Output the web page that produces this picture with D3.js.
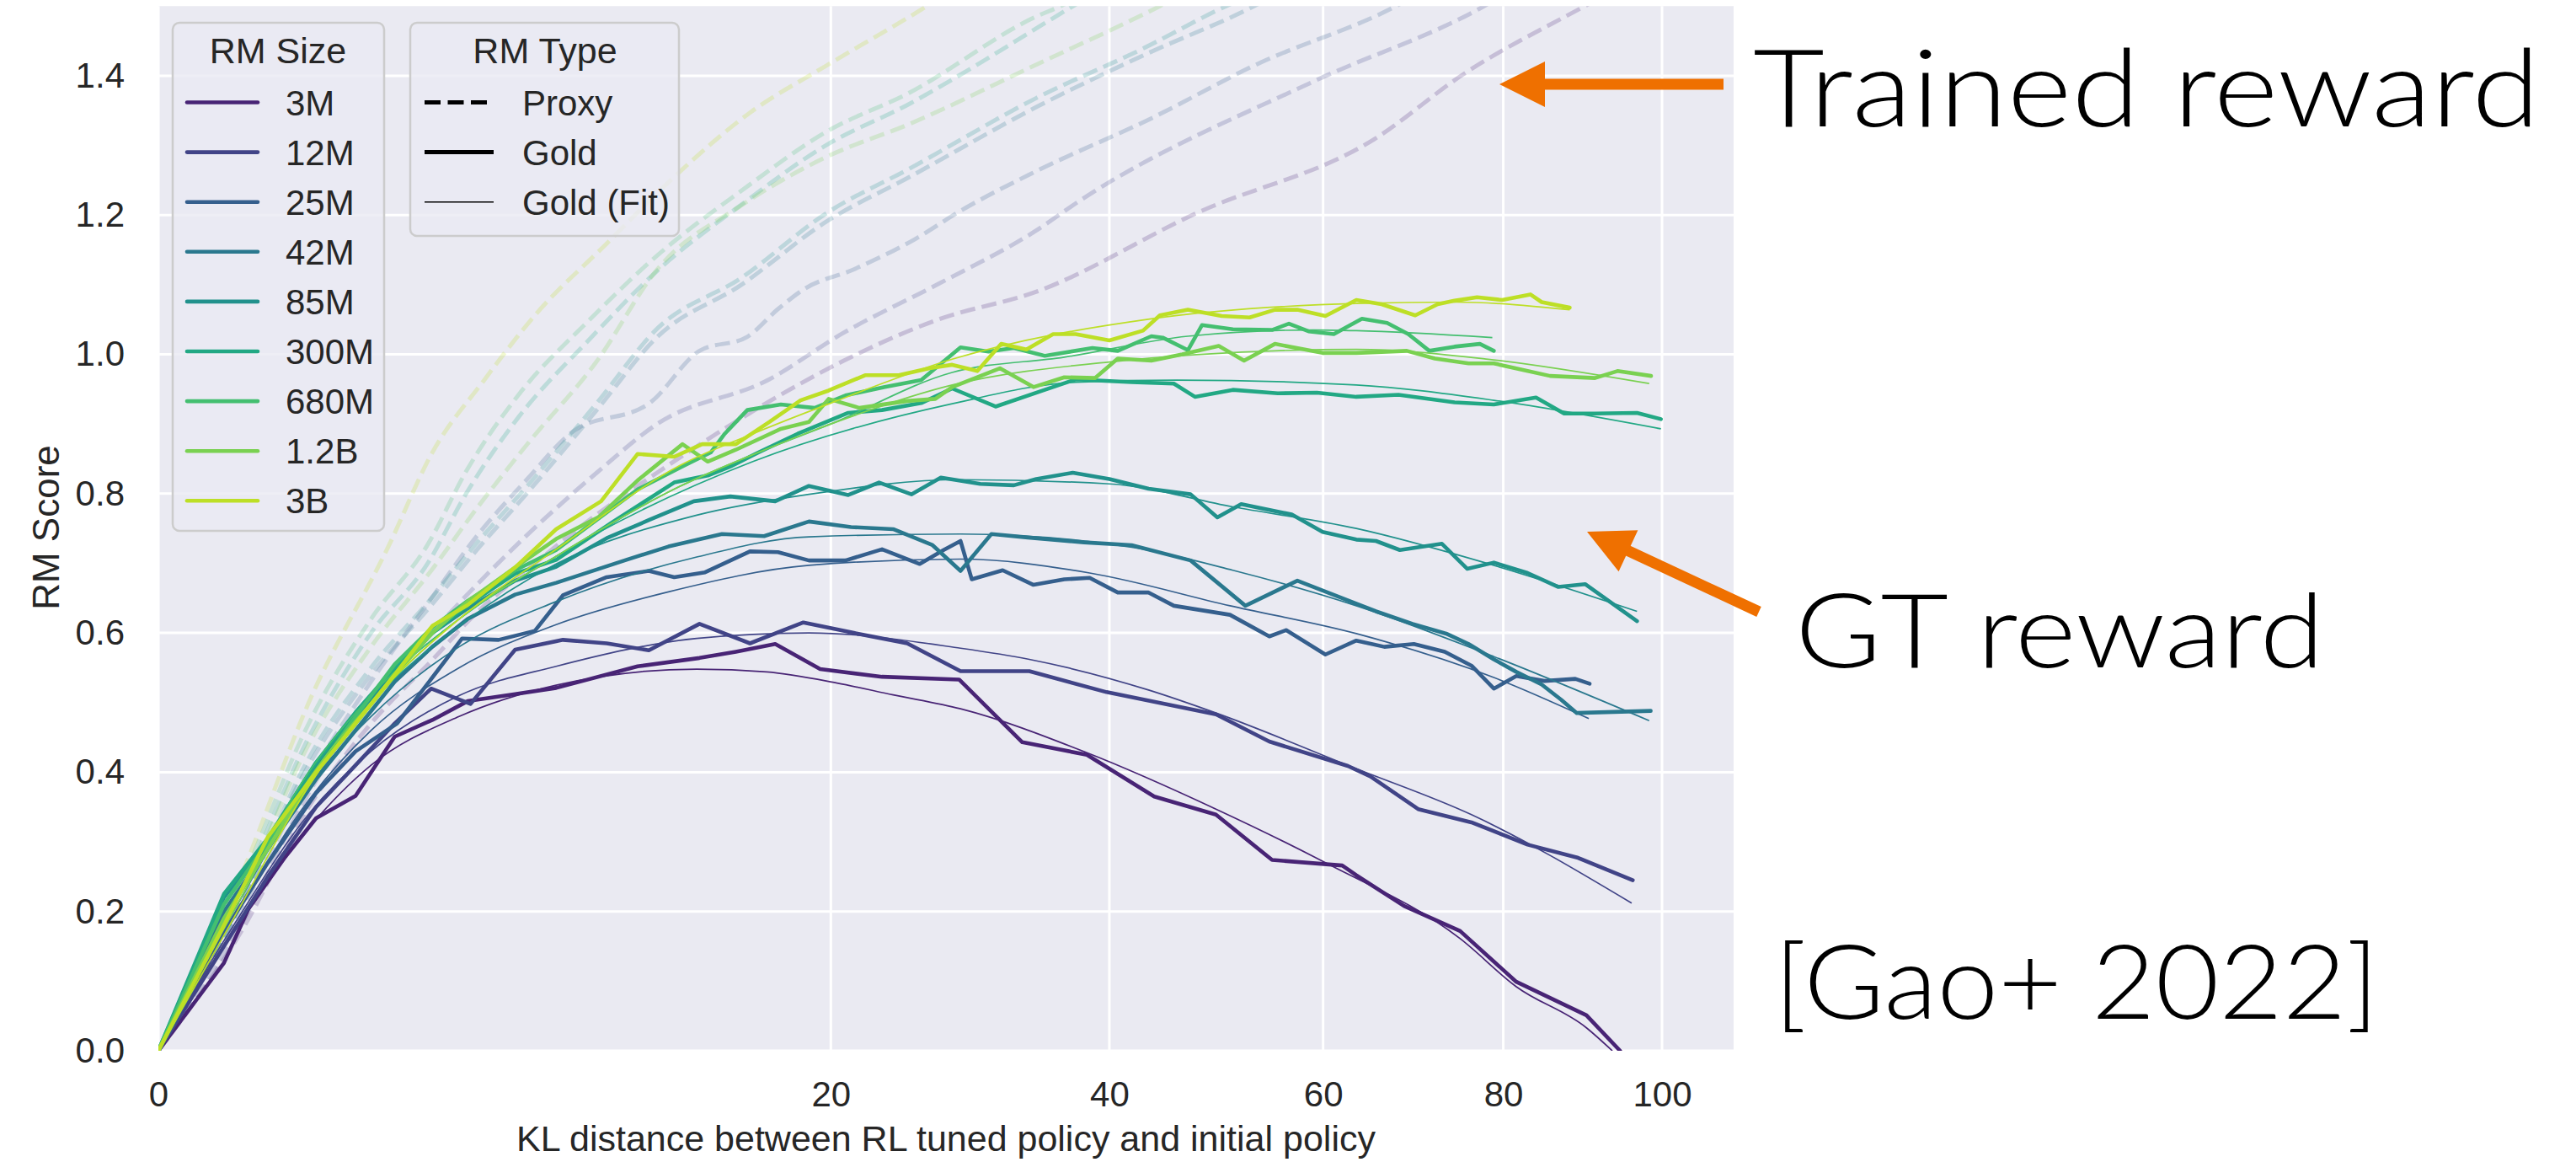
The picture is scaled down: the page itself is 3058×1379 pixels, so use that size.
<!DOCTYPE html>
<html><head><meta charset="utf-8">
<script src="https://cdn.jsdelivr.net/npm/d3@7"></script>
<style>body{margin:0;background:#fff} svg{display:block}</style>
</head><body>
<svg id="c" width="3058" height="1379"></svg>
<script>
// ---------- data ----------
const rmSizes = ["3M","12M","25M","42M","85M","300M","680M","1.2B","3B"];
const rmColors = ["#482475","#414487","#355f8d","#2a788e","#21918c","#22a884","#44bf70","#7ad151","#bddf26"];
const xTicks = [0,20,40,60,80,100];
const yTicks = [0,0.2,0.4,0.6,0.8,1.0,1.2,1.4];
const typeLabels = ["Proxy","Gold","Gold (Fit)"];

// gold (measured) : [KL, score]
const gold3M = [[0,0],[0.19,0.126],[0.36,0.204],[0.71,0.278],[1.10,0.334],[1.72,0.366],[2.47,0.451],[3.32,0.475],[4.23,0.502],[5.63,0.512],[7.0,0.521],[10.16,0.552],[12.95,0.564],[14.75,0.573],[16.83,0.584],[19.37,0.548],[23.16,0.537],[28.36,0.533],[33.01,0.443],[38.13,0.425],[43.86,0.365],[49.47,0.339],[54.86,0.274],[61.99,0.266],[63.47,0.252],[68.63,0.208],[74.95,0.172],[81.56,0.099],[90.2,0.051],[94.5,0.0]];
const gold12M = [[0,0],[0.19,0.15],[0.53,0.25],[1.10,0.35],[1.72,0.41],[2.47,0.47],[3.29,0.520],[4.31,0.498],[5.63,0.576],[7.24,0.590],[8.89,0.585],[10.64,0.575],[12.95,0.613],[15.48,0.585],[18.40,0.615],[21.39,0.600],[24.80,0.585],[28.46,0.545],[33.55,0.545],[39.76,0.515],[49.47,0.483],[54.59,0.444],[62.58,0.409],[64.97,0.394],[70.19,0.347],[76.26,0.328],[82.92,0.296],[89.15,0.277],[96.15,0.245]];
const gold25M = [[0,0],[0.19,0.17],[0.53,0.27],[1.10,0.37],[1.72,0.43],[2.52,0.47],[3.32,0.536],[4.08,0.592],[5.12,0.590],[6.27,0.603],[7.24,0.654],[8.89,0.680],[10.64,0.689],[11.77,0.680],[13.22,0.687],[15.48,0.717],[16.98,0.716],[18.72,0.704],[20.88,0.704],[23.16,0.720],[25.64,0.699],[27.27,0.719],[28.46,0.732],[29.26,0.677],[31.53,0.690],[33.87,0.669],[36.30,0.677],[38.36,0.679],[40.71,0.658],[43.37,0.658],[45.61,0.639],[50.79,0.626],[54.59,0.595],[56.25,0.604],[60.24,0.569],[63.47,0.589],[66.48,0.580],[69.72,0.584],[73.19,0.573],[76.26,0.553],[78.88,0.520],[81.56,0.538],[84.97,0.531],[88.80,0.534],[90.6,0.527]];
const gold42M = [[0,0],[0.19,0.20],[0.53,0.29],[1.10,0.39],[1.72,0.46],[2.47,0.53],[3.32,0.58],[4.23,0.62],[5.63,0.655],[7.0,0.672],[9.69,0.705],[11.51,0.724],[14.05,0.742],[16.23,0.739],[18.72,0.760],[21.22,0.752],[23.88,0.749],[26.51,0.726],[28.46,0.689],[30.69,0.742],[33.44,0.737],[37.90,0.730],[41.90,0.726],[47.13,0.704],[52.26,0.639],[57.38,0.675],[63.47,0.642],[65.57,0.631],[69.57,0.613],[73.35,0.599],[75.93,0.584],[78.88,0.562],[81.56,0.544],[84.62,0.526],[87.05,0.504],[88.98,0.485],[98.5,0.488]];
const gold85M = [[0,0],[0.19,0.22],[0.53,0.30],[1.10,0.41],[1.72,0.48],[2.47,0.545],[3.32,0.60],[4.23,0.635],[5.63,0.675],[7.0,0.695],[8.89,0.736],[10.64,0.762],[12.68,0.789],[14.47,0.796],[16.83,0.789],[18.72,0.811],[21.05,0.798],[22.97,0.816],[25.08,0.799],[27.08,0.823],[29.87,0.814],[32.37,0.812],[34.09,0.821],[36.98,0.830],[40.0,0.821],[43.37,0.807],[47.13,0.799],[49.6,0.766],[51.86,0.785],[56.81,0.770],[59.95,0.745],[63.47,0.734],[65.57,0.732],[68.17,0.719],[72.87,0.728],[75.78,0.692],[78.88,0.701],[82.92,0.686],[86.69,0.666],[90.03,0.670],[96.70,0.617]];
const gold300M = [[0,0],[0.19,0.225],[0.53,0.305],[1.10,0.414],[1.72,0.486],[2.47,0.55],[3.32,0.60],[4.23,0.64],[5.63,0.685],[7.0,0.705],[9.12,0.759],[11.77,0.816],[13.35,0.826],[14.47,0.839],[15.92,0.859],[18.08,0.886],[19.05,0.896],[21.05,0.916],[23.16,0.920],[25.74,0.930],[27.87,0.951],[31.0,0.925],[34.75,0.949],[37.21,0.964],[41.90,0.960],[45.61,0.958],[47.52,0.939],[51.06,0.949],[55.42,0.944],[59.37,0.945],[63.47,0.939],[68.01,0.942],[74.31,0.931],[78.88,0.928],[83.94,0.938],[87.40,0.915],[91.28,0.915],[96.70,0.916],[99.85,0.907]];
const gold680M = [[0,0],[0.19,0.21],[0.53,0.30],[1.10,0.40],[1.72,0.48],[2.47,0.555],[3.32,0.608],[4.23,0.646],[5.63,0.69],[7.0,0.719],[10.16,0.806],[12.15,0.839],[13.49,0.859],[14.19,0.886],[15.34,0.920],[17.14,0.928],[19.05,0.923],[20.88,0.941],[23.34,0.953],[25.74,0.963],[28.46,1.010],[30.48,1.004],[32.37,1.009],[34.75,0.998],[38.59,1.009],[40.71,1.005],[43.61,1.026],[44.61,1.024],[46.88,1.006],[48.17,1.042],[51.06,1.036],[54.86,1.035],[56.53,1.044],[58.51,1.033],[61.11,1.029],[64.07,1.051],[66.78,1.045],[69.10,1.029],[71.44,1.005],[74.31,1.011],[77.24,1.015],[78.88,1.005]];
const gold1_2B = [[0,0],[0.19,0.19],[0.53,0.29],[1.10,0.40],[1.72,0.47],[2.47,0.54],[3.32,0.60],[4.23,0.645],[5.63,0.694],[7.0,0.735],[8.56,0.766],[10.16,0.819],[12.15,0.871],[13.35,0.846],[14.75,0.863],[17.14,0.893],[18.72,0.903],[19.87,0.936],[21.74,0.923],[24.80,0.933],[26.70,0.936],[27.87,0.953],[31.32,0.980],[33.87,0.953],[36.30,0.967],[38.82,0.966],[40.71,0.994],[43.61,0.991],[46.37,1.0],[49.73,1.012],[52.13,0.991],[55.14,1.015],[59.95,1.002],[63.47,1.002],[68.94,1.005],[72.07,0.994],[75.93,0.987],[78.88,0.987],[82.24,0.978],[85.66,0.969],[91.28,0.966],[94.16,0.976],[98.55,0.969]];
const gold3B = [[0,0],[0.19,0.18],[0.53,0.307],[1.10,0.40],[1.72,0.47],[2.47,0.54],[3.32,0.61],[4.23,0.64],[5.63,0.694],[7.0,0.749],[8.67,0.789],[10.16,0.857],[11.77,0.853],[13.08,0.871],[14.75,0.871],[16.52,0.903],[18.24,0.934],[19.87,0.948],[22.09,0.970],[24.25,0.970],[26.31,0.980],[27.87,0.985],[29.67,0.976],[31.42,1.015],[33.33,1.007],[35.41,1.029],[37.21,1.029],[40.0,1.020],[42.88,1.034],[44.36,1.056],[46.88,1.064],[50.0,1.055],[52.67,1.053],[55.14,1.064],[57.38,1.064],[60.24,1.055],[63.47,1.078],[66.17,1.072],[69.87,1.056],[72.39,1.072],[74.31,1.077],[76.91,1.082],[79.88,1.078],[83.26,1.086],[84.63,1.075],[88.10,1.067]];

// gold fits
const fit3M = [[0,0],[0.25,0.17],[1,0.32],[2,0.41],[4,0.48],[7,0.525],[12.82,0.548],[16.37,0.544],[20.37,0.528],[23.88,0.511],[28.46,0.491],[38.13,0.428],[49.47,0.347],[60.24,0.270],[74.95,0.161],[81.56,0.092],[90.2,0.033],[93.5,0.0]];
const fit12M = [[0,0],[0.25,0.18],[1,0.34],[2,0.43],[4,0.51],[7,0.552],[12.82,0.592],[18.72,0.600],[28.46,0.578],[33.55,0.562],[43.37,0.518],[49.47,0.485],[63.47,0.405],[76.26,0.339],[96.0,0.212]];
const fit25M = [[0,0],[0.25,0.19],[1,0.36],[2,0.46],[4,0.55],[7,0.612],[11.51,0.659],[18.72,0.697],[28.46,0.706],[38.36,0.686],[50.79,0.639],[63.47,0.599],[78.88,0.536],[90.5,0.477]];
const fit42M = [[0,0],[0.25,0.2],[1,0.38],[2,0.48],[4,0.58],[7,0.645],[12.82,0.709],[18.72,0.738],[28.46,0.742],[41.9,0.723],[51.06,0.69],[63.47,0.639],[78.88,0.566],[98.3,0.474]];
const fit85M = [[0,0],[0.25,0.21],[1,0.39],[2,0.50],[4,0.61],[7,0.699],[12.82,0.769],[18.72,0.799],[28.46,0.820],[40.0,0.814],[51.06,0.781],[63.47,0.75],[78.88,0.697],[96.7,0.631]];
const fit300M = [[0,0],[0.25,0.21],[1,0.40],[2,0.51],[4,0.62],[7,0.71],[15.63,0.846],[27.87,0.929],[37.21,0.960],[45.9,0.963],[63.47,0.956],[78.88,0.934],[99.85,0.893]];
const fit680M = [[0,0],[0.25,0.21],[1,0.40],[2,0.51],[4,0.62],[7,0.71],[12,0.81],[16,0.86],[20,0.90],[27.87,0.974],[36.3,0.996],[46.88,1.026],[59,1.035],[63.47,1.034],[78.7,1.024]];
const fit1_2B = [[0,0],[0.25,0.2],[1,0.39],[2,0.50],[4,0.62],[7,0.71],[12,0.81],[16,0.86],[20,0.90],[27.87,0.956],[40.0,0.989],[63.47,1.007],[78.2,0.993],[98.3,0.958]];
const fit3B = [[0,0],[0.25,0.19],[1,0.38],[2,0.50],[4,0.62],[7,0.72],[12,0.84],[16,0.89],[20,0.93],[27.87,0.993],[43.6,1.051],[63.47,1.073],[74.31,1.075],[88.1,1.064]];

// proxy (trained RM score)
const proxy3M = [[0,0],[0.3,0.17],[1,0.35],[2,0.47],[3.3,0.56],[4.5,0.63],[6,0.69],[8.5,0.77],[11,0.83],[14,0.89],[17,0.94],[20.7,0.99],[26.9,1.05],[34.1,1.09],[47.7,1.203],[65.4,1.309],[75.3,1.402],[89.5,1.497],[95,1.53]];
const proxy12M = [[0,0],[0.3,0.18],[1,0.37],[2,0.5],[3.3,0.6],[4.5,0.67],[6,0.74],[8.5,0.83],[11,0.9],[16.5,0.964],[20.7,1.03],[26.9,1.101],[34.1,1.178],[37.5,1.22],[59.2,1.393],[77.3,1.497],[82,1.53]];
const proxy25M = [[0,0],[0.3,0.2],[1,0.39],[2,0.53],[3.3,0.65],[4.5,0.74],[6,0.82],[7.53,0.887],[10.75,0.932],[12.95,1.005],[15.33,1.025],[16.98,1.065],[18.4,1.093],[21.39,1.122],[25.37,1.166],[28.46,1.206],[34.09,1.263],[43.5,1.338],[53.3,1.416],[67.3,1.497],[72,1.53]];
const proxy42M = [[0,0],[0.3,0.21],[1,0.41],[2,0.54],[3.3,0.64],[4.5,0.72],[6,0.80],[8.5,0.92],[11.01,1.025],[15.04,1.10],[19.7,1.19],[24.98,1.255],[34.09,1.355],[43,1.43],[52.7,1.497],[57,1.53]];
const proxy85M = [[0,0],[0.3,0.21],[1,0.42],[2,0.55],[3.3,0.65],[4.5,0.73],[6,0.81],[8.5,0.93],[11.01,1.037],[15.04,1.110],[19.7,1.202],[24.98,1.267],[34.09,1.368],[43,1.44],[50,1.497],[55,1.53]];
const proxy300M = [[0,0],[0.3,0.23],[1,0.45],[2,0.6],[3.21,0.70],[4.19,0.80],[5.74,0.91],[8.18,1.02],[11.01,1.12],[15.04,1.215],[19.7,1.30],[24.98,1.36],[30,1.42],[34.09,1.468],[37,1.50],[40,1.53]];
const proxy680M = [[0,0],[0.3,0.24],[1,0.47],[2,0.62],[3.21,0.727],[4.19,0.832],[5.74,0.942],[8.18,1.048],[11.01,1.142],[15.04,1.235],[19.7,1.319],[24.98,1.376],[34.09,1.485],[36,1.50],[40,1.54]];
const proxy1_2B = [[0,0],[0.3,0.22],[1,0.44],[2,0.58],[3.3,0.69],[4.5,0.78],[6,0.87],[8.5,0.99],[11.01,1.122],[15.04,1.214],[19.7,1.283],[24.98,1.331],[34.09,1.416],[44,1.497],[48,1.53]];
const proxy3B = [[0,0],[0.3,0.25],[1,0.5],[2.36,0.727],[3.3,0.857],[4.68,0.962],[6.31,1.058],[8.86,1.158],[11.64,1.251],[15.48,1.347],[19.7,1.414],[25.9,1.497],[30,1.55]];

const goldSeries = [gold3M,gold12M,gold25M,gold42M,gold85M,gold300M,gold680M,gold1_2B,gold3B];
const fitSeries = [fit3M,fit12M,fit25M,fit42M,fit85M,fit300M,fit680M,fit1_2B,fit3B];
const proxySeries = [proxy3M,proxy12M,proxy25M,proxy42M,proxy85M,proxy300M,proxy680M,proxy1_2B,proxy3B];

// ---------- drawing ----------
const svg = d3.select("#c");
const L = 188, R = 2058, T = 7.25, B = 1247;
const x = d3.scaleSqrt().domain([0,109.75]).range([L,R]);
const y = d3.scaleLinear().domain([0,1.5]).range([B,T]);
const textCol = "#262626";
const font = "'Liberation Sans', Arial, Helvetica, sans-serif";

svg.append("rect").attr("width",3058).attr("height",1379).attr("fill","#fff");
svg.append("rect").attr("x",L).attr("y",T).attr("width",R-L).attr("height",B-T).attr("fill","#eaeaf2");

svg.append("defs").append("clipPath").attr("id","clip")
  .append("rect").attr("x",L).attr("y",T).attr("width",R-L).attr("height",B-T);

// grid
const grid = svg.append("g");
grid.selectAll("line.gx").data(xTicks).join("line")
  .attr("x1",d=>x(d)).attr("x2",d=>x(d)).attr("y1",T).attr("y2",B)
  .attr("stroke","#fff").attr("stroke-width",3);
grid.selectAll("line.gy").data(yTicks).join("line")
  .attr("x1",L).attr("x2",R).attr("y1",d=>y(d)).attr("y2",d=>y(d))
  .attr("stroke","#fff").attr("stroke-width",3);

// axes labels via d3 axes (no domain, no ticks)
const xAxis = svg.append("g").attr("transform",`translate(0,${B})`)
  .call(d3.axisBottom(x).tickValues(xTicks).tickFormat(d3.format("d")).tickSize(0).tickPadding(36));
const yAxis = svg.append("g").attr("transform",`translate(${L},0)`)
  .call(d3.axisLeft(y).tickValues(yTicks).tickFormat(d3.format(".1f")).tickSize(0).tickPadding(40));
[xAxis,yAxis].forEach(a=>{
  a.select(".domain").remove();
  a.selectAll("text").attr("font-family",font).attr("font-size",42).attr("fill",textCol);
});
xAxis.selectAll("text").attr("dy","0.72em");

svg.append("text").attr("x",(L+R)/2).attr("y",1366).attr("text-anchor","middle")
  .attr("font-family",font).attr("font-size",43).attr("fill",textCol)
  .text("KL distance between RL tuned policy and initial policy");
svg.append("text").attr("transform","translate(70,626) rotate(-90)").attr("text-anchor","middle")
  .attr("font-family",font).attr("font-size",44).attr("fill",textCol).text("RM Score");

// lines
const plot = svg.append("g").attr("clip-path","url(#clip)");
const lineLin = d3.line().x(d=>x(d[0])).y(d=>y(d[1]));
const lineSmooth = d3.line().x(d=>x(d[0])).y(d=>y(d[1])).curve(d3.curveMonotoneX);

proxySeries.forEach((s,i)=>{
  plot.append("path").attr("d",lineSmooth(s)).attr("fill","none")
    .attr("stroke",rmColors[i]).attr("stroke-opacity",0.22).attr("stroke-width",5)
    .attr("stroke-dasharray","18,8");
});
goldSeries.forEach((s,i)=>{
  plot.append("path").attr("d",lineLin(s)).attr("fill","none")
    .attr("stroke",rmColors[i]).attr("stroke-width",4.6).attr("stroke-linejoin","round").attr("stroke-linecap","round");
  plot.append("path").attr("d",lineSmooth(fitSeries[i])).attr("fill","none")
    .attr("stroke",rmColors[i]).attr("stroke-width",1.7);
});

// legends (boxes first, then contents)
function legendBox(x0,y0,w,h){
  svg.append("rect").attr("x",x0).attr("y",y0).attr("width",w).attr("height",h)
    .attr("rx",8).attr("fill","#eaeaf2").attr("fill-opacity",0.8)
    .attr("stroke","#cccccc").attr("stroke-width",2.5);
}
legendBox(205,27,251,603);
legendBox(487,27,319,253);
const lg = svg.append("g");
lg.append("text").attr("x",330).attr("y",75).attr("text-anchor","middle")
  .attr("font-family",font).attr("font-size",43).attr("fill",textCol).text("RM Size");
rmSizes.forEach((s,i)=>{
  const yy = 121.5 + i*59.1;
  lg.append("line").attr("x1",222).attr("x2",306).attr("y1",yy).attr("y2",yy)
    .attr("stroke",rmColors[i]).attr("stroke-width",4.6).attr("stroke-linecap","round");
  lg.append("text").attr("x",339).attr("y",yy+15).attr("font-family",font).attr("font-size",42)
    .attr("fill",textCol).text(s);
});
lg.append("text").attr("x",647).attr("y",75).attr("text-anchor","middle")
  .attr("font-family",font).attr("font-size",43).attr("fill",textCol).text("RM Type");
typeLabels.forEach((s,i)=>{
  const yy = 121.5 + i*59.1;
  const ln = lg.append("line").attr("x1",504).attr("x2",586).attr("y1",yy).attr("y2",yy)
    .attr("stroke","#000").attr("stroke-width", i===2 ? 1.6 : 5);
  if(i===0) ln.attr("stroke-dasharray","19,8.5");
  lg.append("text").attr("x",620).attr("y",yy+15).attr("font-family",font).attr("font-size",42)
    .attr("fill",textCol).text(s);
});

// annotations
const orange = "#ef7000";
function arrow(tip, tail){
  const dx = tail[0]-tip[0], dy = tail[1]-tip[1];
  const len = Math.hypot(dx,dy), ux = dx/len, uy = dy/len;
  const hl = 54, hw = 27, sw = 6.5;
  const bx = tip[0]+ux*hl, by = tip[1]+uy*hl;
  svg.append("line").attr("x1",bx-ux*2).attr("y1",by-uy*2).attr("x2",tail[0]).attr("y2",tail[1])
    .attr("stroke",orange).attr("stroke-width",sw*2);
  svg.append("path").attr("d",`M${tip[0]},${tip[1]}L${bx-uy*hw},${by+ux*hw}L${bx+uy*hw},${by-ux*hw}Z`)
    .attr("fill",orange);
}
arrow([1780,100],[2046,100]);
arrow([1884,631],[2088,726]);

const annFont = "Lato, 'Open Sans', sans-serif";
function ann(txt,x0,base,size,len){
  svg.append("text").attr("x",x0).attr("y",base).attr("font-family",annFont).attr("font-weight",300)
    .attr("font-size",size).attr("fill","#000").attr("textLength",len).attr("lengthAdjust","spacingAndGlyphs").text(txt);
}
ann("Trained reward",2081,150,128,934);
ann("GT reward",2131,792,123,628);
ann("[Gao+ 2022]",2106,1209,123,718);
</script>
</body></html>
